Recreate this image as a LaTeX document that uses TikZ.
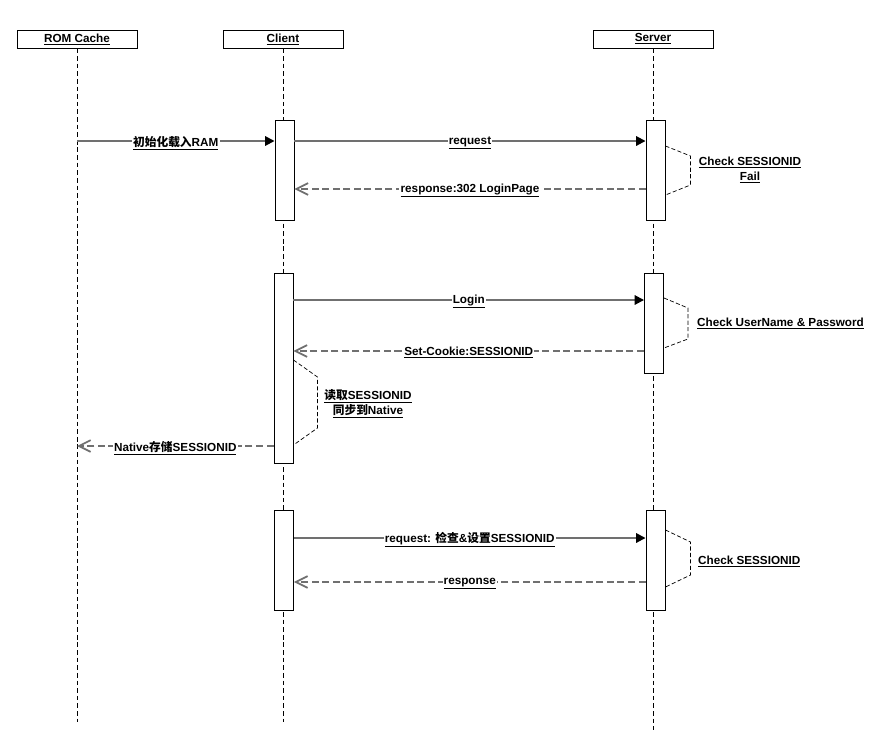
\documentclass[tikz,border=0pt]{standalone}
\usepackage{fontspec}
\setmainfont{Liberation Sans}
\newfontfamily\cjk{Noto Sans CJK SC}
\usetikzlibrary{arrows.meta,positioning}
\definecolor{msggray}{RGB}{112,112,112}
\newcommand{\lbl}[1]{\underline{#1}}

\begin{document}
\begin{tikzpicture}[x=0.03cm,y=-0.03cm,
  font=\fontsize{10}{12.8}\selectfont\bfseries,
  head/.style={draw,line width=0.8pt,minimum width=3.6cm,minimum height=0.54cm,inner sep=0pt},
  life/.style={dash pattern=on 4pt off 2.5pt,line width=0.6pt},
  act/.style={draw,fill=white,line width=0.8pt,minimum width=0.57cm,minimum height=3cm,inner sep=0pt},
  call/.style={msggray,line width=1.6pt,-{Triangle[length=8pt,width=8pt,color=black]}},
  reply/.style={msggray,line width=1.5pt,dash pattern=on 6pt off 3pt,-{Straight Barb[length=10pt,width=10pt]}},
  note/.style={dash pattern=on 3.5pt off 2pt,line width=0.6pt},
  tag/.style={fill=white,inner sep=1pt,text=black,yshift=-1.5pt}]
\useasboundingbox (0,0) rectangle (892,750);
% participants
\node[head] (rom) at (77,39) {\lbl{ROM Cache}};
\node[head] (client) at (283,39) {\lbl{Client}};
\node[head] (server) at (653,39) {\lbl{Server}};
\coordinate (romend) at (77,722); \coordinate (clientend) at (283,722); \coordinate (serverend) at (653,730);
\draw[life] (rom) -- (romend);
\draw[life] (client) -- (clientend);
\draw[life] (server) -- (serverend);
% activations
\node[act] (c1) at (284.5,170) {};
\node[act] (s1) at (655.5,170) {};
\node[act,minimum height=5.7cm] (c2) at (283.5,368) {};
\node[act] (s2) at (654,323) {};
\node[act] (c3) at (284,560) {};
\node[act] (s3) at (655.5,560) {};
% first round
\draw[call] (rom |- 0,141) -- node[tag] {\lbl{{\cjk 初始化载入}RAM}} (c1.west |- 0,141);
\draw[call] (c1.east |- 0,141) -- node[tag] {\lbl{request}} (s1.west |- 0,141);
\draw[reply] (s1.west |- 0,189) -- node[tag] {\lbl{response:302 LoginPage}} (c1.east |- 0,189);
\draw[note] (s1.east |- 0,146) -- ++(25,10) -- ++(0,29) -- ++(-25,10);
\node[align=center] (f1) at (750,170) {\lbl{Check SESSIONID}\\\lbl{Fail}};
% login
\draw[call] (c2.east |- 0,300) -- node[tag] {\lbl{Login}} (s2.west |- 0,300);
\draw[reply] (s2.west |- 0,351) -- node[tag] {\lbl{Set-Cookie:SESSIONID}} (c2.east |- 0,351);
\draw[note] (s2.east |- 0,298) -- ++(24,10) -- ++(0,31) -- ++(-24,9);
\node[right] (f2) at (693,323) {\lbl{Check UserName \& Password}};
\draw[note] (c2.east |- 0,360) -- ++(24,17) -- ++(0,51) -- ++(-24,17);
\node[align=center] (f3) at (368,404) {\lbl{{\cjk 读取}SESSIONID}\\\lbl{{\cjk 同步到}Native}};
\draw[reply] (c2.west |- 0,446) -- node[tag] {\lbl{Native{\cjk 存储}SESSIONID}} (rom |- 0,446);
% with session
\draw[call] (c3.east |- 0,538) -- node[tag] {\lbl{request: {\cjk 检查}\&{\cjk 设置}SESSIONID}} (s3.west |- 0,538);
\draw[reply] (s3.west |- 0,582) -- node[tag] {\lbl{response}} (c3.east |- 0,582);
\draw[note] (s3.east |- 0,530) -- ++(25,12) -- ++(0,33) -- ++(-25,12);
\node[right] (f4) at (694,561) {\lbl{Check SESSIONID}};
\end{tikzpicture}
\end{document}
